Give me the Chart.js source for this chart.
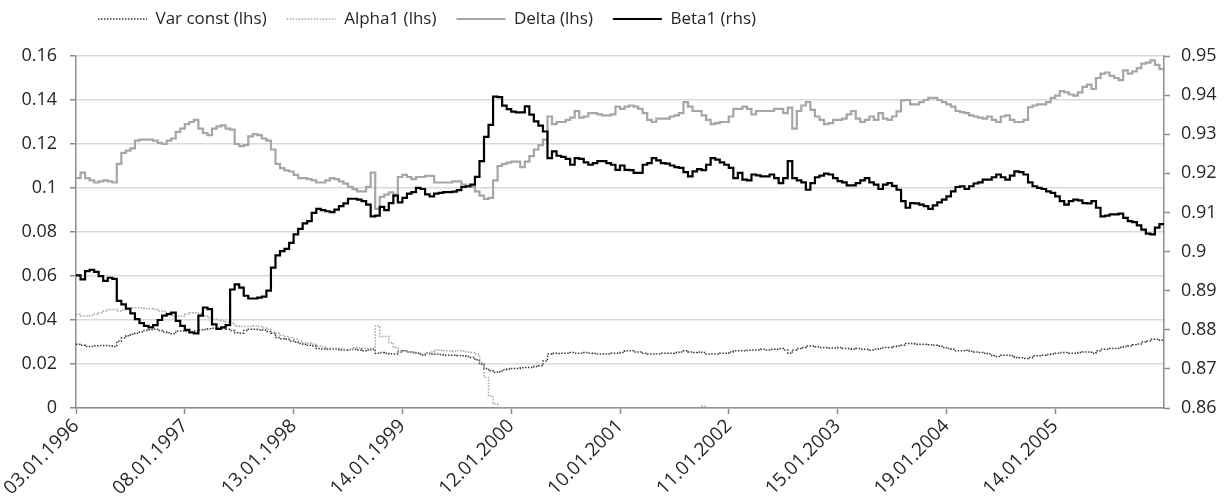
<!DOCTYPE html>
<html>
<head>
<meta charset="utf-8">
<script src="https://cdn.jsdelivr.net/npm/chart.js@4.4.1/dist/chart.umd.min.js"></script>
<style>
  body { margin: 0; background: #fff; }
  #wrap { width: 1225px; height: 502px; }
</style>
</head>
<body>
<div id="wrap"><canvas id="garch-chart" width="1225" height="502"></canvas></div>
<script>
// Rolling GARCH estimates at ~half-month steps (24 per labelled year)
const tickLabels = ['03.01.1996', '08.01.1997', '13.01.1998', '14.01.1999', '12.01.2000',
    '10.01.2001', '11.01.2002', '15.01.2003', '19.01.2004', '14.01.2005'];
const pointsPerTick = 24;

const varConst = [
    0.0290, 0.0285, 0.0280, 0.0280, 0.0283, 0.0284, 0.0284, 0.0283, 0.0280, 0.0303,
    0.0318, 0.0328, 0.0335, 0.0340, 0.0346, 0.0352, 0.0356, 0.0358, 0.0352, 0.0345,
    0.0342, 0.0338, 0.0350, 0.0350, 0.0348, 0.0348, 0.0350, 0.0356, 0.0357, 0.0360,
    0.0362, 0.0364, 0.0363, 0.0358, 0.0352, 0.0342, 0.0340, 0.0352, 0.0358, 0.0358,
    0.0356, 0.0354, 0.0348, 0.0340, 0.0320, 0.0315, 0.0312, 0.0305, 0.0300, 0.0293,
    0.0290, 0.0285, 0.0282, 0.0270, 0.0268, 0.0267, 0.0268, 0.0268, 0.0264, 0.0264,
    0.0266, 0.0267, 0.0264, 0.0260, 0.0264, 0.0267, 0.0249, 0.0252, 0.0249, 0.0245,
    0.0245, 0.0255, 0.0260, 0.0255, 0.0252, 0.0249, 0.0240, 0.0249, 0.0246, 0.0245,
    0.0243, 0.0240, 0.0240, 0.0240, 0.0239, 0.0237, 0.0234, 0.0230, 0.0219, 0.0199,
    0.0180, 0.0169, 0.0162, 0.0165, 0.0174, 0.0177, 0.0180, 0.0180, 0.0183, 0.0184,
    0.0184, 0.0189, 0.0192, 0.0214, 0.0245, 0.0249, 0.0248, 0.0249, 0.0249, 0.0252,
    0.0249, 0.0249, 0.0252, 0.0249, 0.0248, 0.0245, 0.0245, 0.0246, 0.0249, 0.0249,
    0.0252, 0.0260, 0.0260, 0.0255, 0.0255, 0.0249, 0.0245, 0.0245, 0.0246, 0.0249,
    0.0249, 0.0249, 0.0252, 0.0255, 0.0260, 0.0255, 0.0252, 0.0255, 0.0252, 0.0246,
    0.0245, 0.0245, 0.0249, 0.0249, 0.0255, 0.0260, 0.0260, 0.0260, 0.0263, 0.0264,
    0.0264, 0.0267, 0.0264, 0.0267, 0.0267, 0.0270, 0.0264, 0.0249, 0.0264, 0.0270,
    0.0275, 0.0282, 0.0282, 0.0278, 0.0275, 0.0275, 0.0273, 0.0273, 0.0275, 0.0270,
    0.0270, 0.0267, 0.0270, 0.0267, 0.0267, 0.0264, 0.0267, 0.0270, 0.0275, 0.0275,
    0.0280, 0.0282, 0.0285, 0.0293, 0.0293, 0.0290, 0.0290, 0.0290, 0.0288, 0.0285,
    0.0282, 0.0275, 0.0270, 0.0267, 0.0260, 0.0260, 0.0263, 0.0258, 0.0255, 0.0252,
    0.0249, 0.0245, 0.0237, 0.0234, 0.0240, 0.0240, 0.0237, 0.0230, 0.0228, 0.0225,
    0.0230, 0.0237, 0.0237, 0.0240, 0.0243, 0.0245, 0.0249, 0.0252, 0.0252, 0.0249,
    0.0249, 0.0252, 0.0255, 0.0255, 0.0249, 0.0260, 0.0267, 0.0267, 0.0270, 0.0270,
    0.0275, 0.0279, 0.0282, 0.0288, 0.0291, 0.0300, 0.0305, 0.0313, 0.0313, 0.0308,
    0.0308
];

const alpha1 = [
    0.0426, 0.0418, 0.0418, 0.0421, 0.0426, 0.0433, 0.0441, 0.0448, 0.0448, 0.0441,
    0.0445, 0.0451, 0.0456, 0.0456, 0.0456, 0.0451, 0.0451, 0.0448, 0.0441, 0.0439,
    0.0433, 0.0421, 0.0418, 0.0418, 0.0426, 0.0433, 0.0433, 0.0430, 0.0418, 0.0411,
    0.0403, 0.0400, 0.0396, 0.0391, 0.0385, 0.0373, 0.0370, 0.0370, 0.0370, 0.0373,
    0.0370, 0.0364, 0.0358, 0.0346, 0.0340, 0.0331, 0.0325, 0.0319, 0.0313, 0.0305,
    0.0297, 0.0294, 0.0290, 0.0282, 0.0278, 0.0273, 0.0272, 0.0270, 0.0270, 0.0267,
    0.0266, 0.0275, 0.0274, 0.0272, 0.0270, 0.0272, 0.0373, 0.0325, 0.0325, 0.0297,
    0.0275, 0.0260, 0.0260, 0.0255, 0.0252, 0.0249, 0.0245, 0.0249, 0.0255, 0.0264,
    0.0263, 0.0260, 0.0260, 0.0258, 0.0260, 0.0258, 0.0255, 0.0252, 0.0245, 0.0207,
    0.0139, 0.0056, 0.0018, 0, 0, 0, 0, 0, 0, 0,
    0, 0, 0, 0, 0, 0, 0, 0, 0, 0,
    0, 0, 0, 0, 0, 0, 0, 0, 0, 0,
    0, 0, 0, 0, 0, 0, 0, 0, 0, 0,
    0, 0, 0, 0, 0, 0, 0, 0, 0.0008, 0,
    0, 0, 0, 0, 0, 0, 0, 0, 0, 0,
    0, 0, 0, 0, 0, 0, 0, 0, 0, 0,
    0, 0, 0, 0, 0, 0, 0, 0, 0, 0,
    0, 0, 0, 0, 0, 0, 0, 0, 0, 0,
    0, 0, 0, 0, 0, 0, 0, 0, 0, 0,
    0, 0, 0, 0, 0, 0, 0, 0, 0, 0,
    0, 0, 0, 0, 0, 0, 0, 0, 0, 0,
    0, 0, 0, 0, 0, 0, 0, 0, 0, 0,
    0, 0, 0, 0, 0, 0, 0, 0, 0, 0,
    0, 0, 0, 0, 0, 0, 0, 0, 0, 0,
    0
];

const delta = [
    0.1045, 0.1070, 0.1045, 0.1035, 0.1025, 0.1030, 0.1035, 0.1030, 0.1025, 0.1110,
    0.1160, 0.1170, 0.1180, 0.1215, 0.1220, 0.1220, 0.1220, 0.1215, 0.1205, 0.1200,
    0.1215, 0.1225, 0.1255, 0.1270, 0.1290, 0.1300, 0.1310, 0.1270, 0.1250, 0.1240,
    0.1270, 0.1280, 0.1285, 0.1270, 0.1265, 0.1200, 0.1190, 0.1195, 0.1235, 0.1245,
    0.1240, 0.1225, 0.1215, 0.1175, 0.1110, 0.1090, 0.1080, 0.1075, 0.1060, 0.1045,
    0.1045, 0.1040, 0.1035, 0.1025, 0.1025, 0.1035, 0.1045, 0.1040, 0.1030, 0.1020,
    0.1005, 0.0995, 0.0985, 0.0985, 0.1005, 0.1070, 0.0905, 0.0960, 0.0970, 0.0980,
    0.0970, 0.1050, 0.1060, 0.1050, 0.1040, 0.1050, 0.1050, 0.1055, 0.1055, 0.1025,
    0.1025, 0.1025, 0.1025, 0.1030, 0.1030, 0.1015, 0.1010, 0.1005, 0.0985, 0.0965,
    0.0950, 0.0955, 0.1035, 0.1100, 0.1110, 0.1115, 0.1120, 0.1120, 0.1095, 0.1120,
    0.1145, 0.1175, 0.1195, 0.1220, 0.1325, 0.1290, 0.1300, 0.1300, 0.1310, 0.1320,
    0.1350, 0.1320, 0.1325, 0.1340, 0.1340, 0.1335, 0.1330, 0.1330, 0.1335, 0.1370,
    0.1360, 0.1370, 0.1375, 0.1370, 0.1360, 0.1340, 0.1310, 0.1300, 0.1315, 0.1315,
    0.1315, 0.1325, 0.1330, 0.1340, 0.1390, 0.1370, 0.1350, 0.1350, 0.1330, 0.1310,
    0.1290, 0.1295, 0.1300, 0.1300, 0.1325, 0.1360, 0.1360, 0.1370, 0.1360, 0.1335,
    0.1350, 0.1350, 0.1350, 0.1350, 0.1360, 0.1360, 0.1340, 0.1365, 0.1270, 0.1350,
    0.1375, 0.1390, 0.1355, 0.1325, 0.1310, 0.1290, 0.1295, 0.1310, 0.1310, 0.1315,
    0.1335, 0.1350, 0.1315, 0.1300, 0.1310, 0.1325, 0.1310, 0.1340, 0.1315, 0.1310,
    0.1325, 0.1348, 0.1398, 0.1400, 0.1380, 0.1380, 0.1390, 0.1400, 0.1410, 0.1410,
    0.1400, 0.1390, 0.1380, 0.1370, 0.1350, 0.1345, 0.1340, 0.1330, 0.1325, 0.1320,
    0.1315, 0.1325, 0.1310, 0.1300, 0.1325, 0.1330, 0.1310, 0.1300, 0.1300, 0.1310,
    0.1367, 0.1375, 0.1380, 0.1380, 0.1390, 0.1410, 0.1420, 0.1440, 0.1435, 0.1425,
    0.1420, 0.1435, 0.1460, 0.1470, 0.1450, 0.1500, 0.1520, 0.1525, 0.1510, 0.1500,
    0.1490, 0.1535, 0.1520, 0.1530, 0.1545, 0.1565, 0.1570, 0.1580, 0.1560, 0.1540,
    0.1535
];

const beta1 = [
    0.8939, 0.8929, 0.8950, 0.8953, 0.8948, 0.8937, 0.8925, 0.8933, 0.8930, 0.8874,
    0.8865, 0.8854, 0.8842, 0.8827, 0.8817, 0.8810, 0.8806, 0.8812, 0.8825, 0.8836,
    0.8840, 0.8844, 0.8823, 0.8810, 0.8800, 0.8793, 0.8791, 0.8836, 0.8857, 0.8853,
    0.8814, 0.8802, 0.8806, 0.8812, 0.8903, 0.8916, 0.8908, 0.8887, 0.8880, 0.8880,
    0.8882, 0.8885, 0.8900, 0.8959, 0.8990, 0.9001, 0.9007, 0.9022, 0.9044, 0.9058,
    0.9072, 0.9078, 0.9099, 0.9109, 0.9106, 0.9103, 0.9101, 0.9107, 0.9116, 0.9123,
    0.9135, 0.9135, 0.9133, 0.9129, 0.9120, 0.9090, 0.9092, 0.9114, 0.9106, 0.9124,
    0.9143, 0.9126, 0.9137, 0.9148, 0.9152, 0.9163, 0.9160, 0.9146, 0.9141, 0.9148,
    0.9150, 0.9152, 0.9152, 0.9153, 0.9157, 0.9165, 0.9167, 0.9171, 0.9191, 0.9231,
    0.9293, 0.9324, 0.9396, 0.9395, 0.9373, 0.9364, 0.9358, 0.9356, 0.9356, 0.9371,
    0.9350, 0.9333, 0.9322, 0.9307, 0.9239, 0.9256, 0.9245, 0.9242, 0.9237, 0.9222,
    0.9239, 0.9237, 0.9228, 0.9222, 0.9226, 0.9231, 0.9231, 0.9226, 0.9222, 0.9209,
    0.9220, 0.9209, 0.9208, 0.9201, 0.9201, 0.9222, 0.9226, 0.9239, 0.9233, 0.9226,
    0.9225, 0.9220, 0.9216, 0.9214, 0.9203, 0.9192, 0.9205, 0.9211, 0.9208, 0.9222,
    0.9239, 0.9235, 0.9228, 0.9222, 0.9214, 0.9188, 0.9201, 0.9184, 0.9182, 0.9197,
    0.9195, 0.9192, 0.9192, 0.9197, 0.9188, 0.9175, 0.9188, 0.9231, 0.9188, 0.9182,
    0.9177, 0.9158, 0.9175, 0.9190, 0.9194, 0.9199, 0.9197, 0.9188, 0.9180, 0.9177,
    0.9169, 0.9169, 0.9175, 0.9182, 0.9188, 0.9177, 0.9171, 0.9160, 0.9171, 0.9175,
    0.9168, 0.9158, 0.9129, 0.9112, 0.9124, 0.9123, 0.9120, 0.9116, 0.9109, 0.9118,
    0.9126, 0.9133, 0.9141, 0.9154, 0.9165, 0.9167, 0.9160, 0.9167, 0.9174, 0.9177,
    0.9184, 0.9184, 0.9190, 0.9197, 0.9190, 0.9184, 0.9194, 0.9205, 0.9203, 0.9197,
    0.9177, 0.9167, 0.9163, 0.9160, 0.9154, 0.9150, 0.9141, 0.9129, 0.9120, 0.9129,
    0.9133, 0.9131, 0.9124, 0.9123, 0.9129, 0.9112, 0.9090, 0.9092, 0.9095, 0.9095,
    0.9097, 0.9086, 0.9078, 0.9075, 0.9067, 0.9056, 0.9046, 0.9044, 0.9061, 0.9070,
    0.9070
];

const FONT = "'Open Sans', 'DejaVu Sans', sans-serif";
const TEXT = '#262626';
const AXIS = '#8c8c8c';
const GRID = '#d9d9d9';

// one category per observation, a date label on every 24th
const labels = varConst.map((_, i) => (i % pointsPerTick === 0 && tickLabels[i / pointsPerTick]) || '');

const fmt = v => String(+Number(v).toFixed(2));

// park the legend where Excel put it (left-ish, near the top)
const legendSpot = {
    id: 'legendSpot',
    afterLayout(chart) {
        if (!chart.legend) return;
        chart.legend.left = 78;
        chart.legend.top = -9.5;
    }
};

const line = (label, data, axis, color, width, dash, order) => ({
    label, data, yAxisID: axis,
    borderColor: color, backgroundColor: color,
    borderWidth: width, borderDash: dash,
    stepped: true, pointRadius: 0, fill: false, order
});

// legend samples: short strokes using each dataset's own colour, width and dash
const legendItems = chart => chart.data.datasets.map((ds, i) => ({
    text: ds.label,
    fillStyle: ds.borderColor,
    strokeStyle: ds.borderColor,
    lineWidth: ds.borderWidth,
    lineDash: ds.borderDash,
    pointStyle: 'line',
    fontColor: TEXT,
    hidden: false,
    datasetIndex: i
}));

new Chart(document.getElementById('garch-chart').getContext('2d'), {
    type: 'line',
    data: {
        labels,
        datasets: [
            line('Var const (lhs)', varConst, 'y', '#3a3a3a', 1.5, [1.5, 1.5], 4),
            line('Alpha1 (lhs)', alpha1, 'y', '#a6a6a6', 1.5, [1.5, 1.5], 3),
            line('Delta (lhs)', delta, 'y', '#a6a6a6', 2.2, [], 2),
            line('Beta1 (rhs)', beta1, 'y1', '#000000', 2.2, [], 1)
        ]
    },
    options: {
        responsive: false,
        animation: false,
        devicePixelRatio: 1,
        layout: { padding: { top: 9, left: 0, right: 0, bottom: 0 } },
        plugins: {
            tooltip: { enabled: false },
            legend: {
                position: 'top',
                align: 'start',
                labels: {
                    usePointStyle: true,
                    pointStyleWidth: 49,
                    padding: 20,
                    color: TEXT,
                    font: { family: FONT, size: 17 },
                    generateLabels: legendItems
                }
            }
        },
        scales: {
            x: {
                type: 'category',
                offset: false,
                afterFit: s => { s.height = 94; },
                border: { color: AXIS, width: 1.5 },
                grid: { drawOnChartArea: false, tickLength: 6, tickColor: AXIS, tickWidth: 1.5 },
                ticks: {
                    autoSkip: false,
                    minRotation: 45,
                    maxRotation: 45,
                    padding: 1,
                    color: TEXT,
                    font: { family: FONT, size: 19 },
                    callback: (v, i) => labels[i] || null
                }
            },
            y: {
                position: 'left',
                min: 0,
                max: 0.16,
                afterFit: s => { s.width = 76; },
                border: { color: AXIS, width: 1.5 },
                grid: { color: GRID, lineWidth: 1.5, tickLength: 6, tickColor: AXIS, tickWidth: 1.5 },
                ticks: { stepSize: 0.02, padding: 13, color: TEXT, font: { family: FONT, size: 18 }, callback: fmt }
            },
            y1: {
                position: 'right',
                min: 0.86,
                max: 0.95,
                afterFit: s => { s.width = 61; },
                border: { color: AXIS, width: 1.5 },
                grid: { drawOnChartArea: false, tickLength: 6, tickColor: AXIS, tickWidth: 1.5 },
                ticks: { stepSize: 0.01, padding: 11, color: TEXT, font: { family: FONT, size: 18 }, callback: fmt }
            }
        }
    },
    plugins: [legendSpot]
});
</script>
</body>
</html>
